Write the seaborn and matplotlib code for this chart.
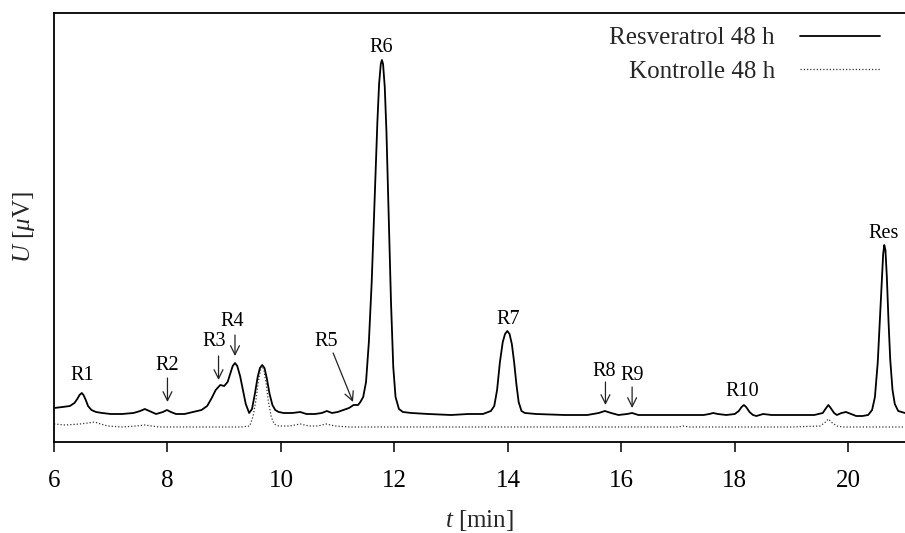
import numpy as np
import pandas as pd
import matplotlib
matplotlib.use("Agg")
import matplotlib.pyplot as plt
import seaborn as sns

# ---- data (retention time [min], detector signal [arb. µV]) ----
t_res = [6.00, 6.15, 6.28, 6.36, 6.41, 6.45, 6.49, 6.52, 6.56, 6.60, 6.66, 6.74, 6.85, 7.00,
         7.20, 7.40, 7.52, 7.60, 7.68, 7.80, 7.92, 7.99, 8.06, 8.15, 8.30, 8.45, 8.60, 8.70,
         8.78, 8.85, 8.93, 9.00, 9.06, 9.11, 9.15, 9.19, 9.23, 9.28, 9.33, 9.38, 9.44, 9.49,
         9.54, 9.59, 9.63, 9.67, 9.71, 9.75, 9.80, 9.85, 9.90, 9.96, 10.05, 10.20, 10.34,
         10.45, 10.60, 10.72, 10.81, 10.90, 11.00, 11.10, 11.20, 11.28, 11.36, 11.40, 11.45,
         11.50, 11.55, 11.60, 11.65, 11.70, 11.73, 11.76, 11.78, 11.80, 11.83, 11.86, 11.90,
         11.94, 11.98, 12.02, 12.08, 12.15, 12.30, 12.60, 13.00, 13.30, 13.56, 13.70, 13.76,
         13.81, 13.86, 13.91, 13.95, 13.99, 14.03, 14.07, 14.11, 14.15, 14.19, 14.24, 14.30,
         14.50, 15.00, 15.40, 15.60, 15.71, 15.82, 15.95, 16.10, 16.19, 16.30, 16.50, 17.00,
         17.45, 17.55, 17.62, 17.70, 17.85, 18.00, 18.07, 18.12, 18.16, 18.20, 18.26, 18.32,
         18.38, 18.50, 18.65, 19.00, 19.40, 19.55, 19.61, 19.65, 19.69, 19.75, 19.80, 19.88,
         19.96, 20.05, 20.14, 20.25, 20.35, 20.42, 20.47, 20.52, 20.56, 20.59, 20.615, 20.635,
         20.655, 20.68, 20.71, 20.74, 20.78, 20.82, 20.88, 21.00]
u_res = [34, 35, 36, 39, 43, 47, 49, 47, 42, 36, 32, 30, 29, 28,
         28, 29, 31, 33, 31, 28, 30, 32, 30, 28, 28, 30, 32, 36,
         44, 52, 57, 56, 60, 69, 76, 79, 76, 66, 52, 38, 29, 33,
         48, 65, 74, 77, 74, 64, 48, 37, 32, 30, 29, 29, 30,
         28, 28, 29, 31, 29, 30, 32, 34, 37, 37, 40, 45,
         60, 100, 160, 240, 320, 358, 378, 382, 378, 355, 310, 225,
         140, 75, 45, 33, 30, 29, 28, 27, 28, 28, 31, 36,
         52, 80, 100, 108, 111, 108, 98, 80, 58, 40, 31, 29,
         28, 27, 27, 29, 31, 29, 27, 28, 29, 27, 27, 27,
         27, 28, 29, 28, 27, 28, 31, 35, 37, 35, 30, 27,
         26, 28, 27, 27, 27, 29, 34, 37, 34, 29, 27, 29,
         30, 28, 26, 26, 27, 32, 45, 80, 125, 160, 188, 197,
         192, 165, 120, 82, 52, 38, 31, 29]

t_ctl = [6.00, 6.20, 6.45, 6.60, 6.72, 6.82, 6.95, 7.20, 7.45, 7.60, 7.72, 7.85, 8.50, 9.30,
         9.45, 9.51, 9.56, 9.60, 9.64, 9.67, 9.70, 9.74, 9.78, 9.83, 9.88, 9.96, 10.15, 10.34,
         10.50, 10.65, 10.80, 10.95, 11.20, 12.00, 13.00, 14.00, 15.00, 16.00, 17.00, 17.10,
         17.20, 18.00, 19.00, 19.50, 19.58, 19.65, 19.72, 19.80, 19.90, 21.00]
u_ctl = [18, 17, 18, 19, 20, 18, 16, 15, 16, 17, 16, 15, 15, 15,
         16, 26, 42, 60, 72, 76, 72, 58, 40, 25, 18, 16, 16, 18,
         16, 16, 18, 16, 15, 15, 15, 15, 15, 15, 15, 16,
         15, 15, 15, 16, 19, 23, 19, 16, 15, 15]

series_names = ["Resveratrol 48 h", "Kontrolle 48 h"]
x_ticks = [6, 8, 10, 12, 14, 16, 18, 20]

# peak labels: (text, x, y)
peak_labels = [("R1", 6.50, 67), ("R2", 8.00, 77), ("R3", 8.82, 101), ("R4", 9.14, 120),
               ("R5", 10.80, 101), ("R6", 11.76, 394), ("R7", 14.00, 123), ("R8", 15.70, 71),
               ("R9", 16.20, 67), ("R10", 18.13, 50), ("Res", 20.62, 209)]
# arrows: (x_start, y_start, x_end, y_end)
peak_arrows = [(8.00, 64, 8.00, 40), (8.90, 86, 8.90, 62), (9.19, 107, 9.19, 86),
               (10.92, 89, 11.27, 40), (15.72, 60, 15.72, 37), (16.19, 55, 16.19, 34)]

# ---- style ----
sns.set_theme(style="white")
plt.rcParams["font.family"] = ["Liberation Serif", "DejaVu Serif"]
plt.rcParams["mathtext.fontset"] = "custom"
plt.rcParams["mathtext.rm"] = "Liberation Serif"
plt.rcParams["mathtext.it"] = "Liberation Serif:italic"

fig = plt.figure(figsize=(9.05, 5.33), dpi=100)
ax = fig.add_axes([54 / 905, 91 / 533, 851 / 905, 429 / 533])

df_res = pd.DataFrame({"t": t_res, "u": u_res})
df_ctl = pd.DataFrame({"t": t_ctl, "u": u_ctl})

sns.lineplot(data=df_res, x="t", y="u", ax=ax, color="black", lw=1.3,
             label=series_names[0])
sns.lineplot(data=df_ctl, x="t", y="u", ax=ax, color="#333333", lw=0.9,
             linestyle=(0, (1, 1.6)), label=series_names[1])

ax.set_xlim(6, 21)
ax.set_ylim(0, 429)
ax.set_xticks(x_ticks)
ax.set_xticklabels([str(v) for v in x_ticks])
ax.set_yticks([])
ax.tick_params(axis="x", direction="out", length=7, width=1.1, pad=13,
               labelsize=18, colors="black", bottom=True)
for side in ["left", "top", "bottom"]:
    ax.spines[side].set_visible(True)
    ax.spines[side].set_color("black")
    ax.spines[side].set_linewidth(1.3)
ax.spines["right"].set_visible(False)

ax.set_xlabel(r"$t$ [min]", fontsize=18, labelpad=12)
ax.set_ylabel(r"$U$ [$\mu$V]", fontsize=18, labelpad=12)

for txt, x, y in peak_labels:
    ax.text(x, y, txt, ha="center", va="center", fontsize=14.5, color="black")
for x0, y0, x1, y1 in peak_arrows:
    ax.annotate("", xy=(x1, y1), xytext=(x0, y0),
                arrowprops=dict(arrowstyle="->", lw=0.9, color="#222222",
                                shrinkA=0, shrinkB=0, mutation_scale=16))

leg = ax.legend(loc="upper right", bbox_to_anchor=(880 / 905, 506 / 533),
                bbox_transform=fig.transFigure, frameon=False, markerfirst=False,
                fontsize=18, handlelength=3.2, handletextpad=1.0,
                labelspacing=0.42, borderpad=0, borderaxespad=0)

fig.savefig("out.png", dpi=100)
